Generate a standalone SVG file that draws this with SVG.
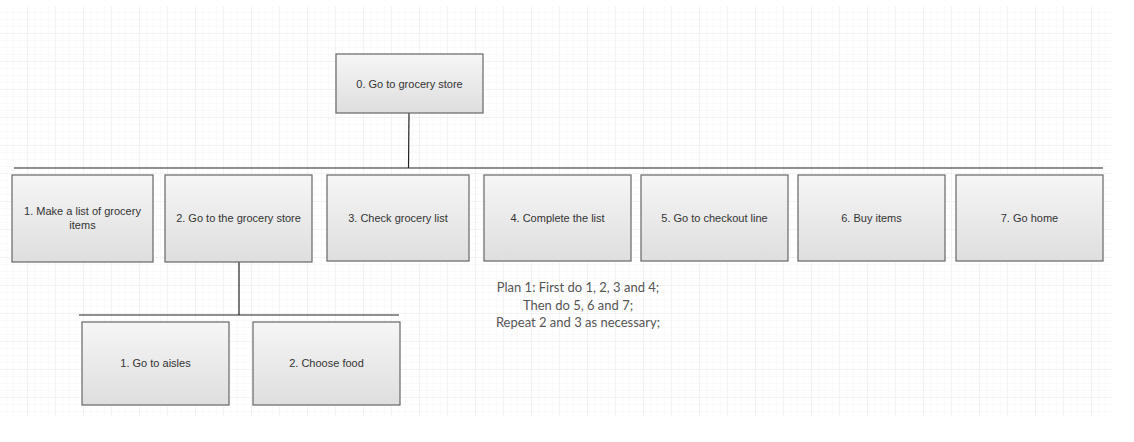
<svg xmlns="http://www.w3.org/2000/svg" width="1134" height="442" viewBox="0 0 1134 442">
<defs>
<pattern id="minor" width="7" height="7" patternUnits="userSpaceOnUse" x="0" y="6">
<path d="M7 0V7M0 7H7" fill="none" stroke="#f4f4f4" stroke-width="1"/>
</pattern>
<pattern id="major" width="28" height="28" patternUnits="userSpaceOnUse" x="0" y="6">
<path d="M28 0V28M0 28H28" fill="none" stroke="#ececec" stroke-width="1"/>
</pattern>
<linearGradient id="boxfill" x1="0" y1="0" x2="0" y2="1">
<stop offset="0" stop-color="#f6f6f6"/>
<stop offset="1" stop-color="#dedede"/>
</linearGradient>
<style>
.box{fill:url(#boxfill);stroke:#666;stroke-width:1.2}
.lbl{font-family:"Liberation Sans",Arial,sans-serif;font-size:11px;fill:#333;text-anchor:middle}
.conn{stroke:#222;stroke-width:1.2;fill:none}
.plan{font-family:Lato,"Noto Sans",sans-serif;font-size:13px;fill:#555;text-anchor:middle}
</style>
</defs>
<rect width="1134" height="442" fill="#fff"/>
<rect x="0" y="6" width="1112" height="410" fill="url(#minor)"/>
<rect x="0" y="6" width="1112" height="410" fill="url(#major)"/>
<g id="connectors">
<path class="conn" d="M409 113L408.5 168"/>
<path class="conn" d="M14 168H1103"/>
<path class="conn" d="M239 262V315"/>
<path class="conn" d="M79 315H399" stroke="#555"/>
</g>
<g id="node0"><rect class="box" x="336" y="54" width="147" height="59"/><text class="lbl" x="409.5" y="88">0. Go to grocery store</text></g>
<g id="node1"><rect class="box" x="12" y="175" width="141" height="87"/><text class="lbl" x="82.5" y="215">1. Make a list of grocery</text><text class="lbl" x="82.5" y="229">items</text></g>
<g id="node2"><rect class="box" x="165" y="175" width="147" height="87"/><text class="lbl" x="238.5" y="222">2. Go to the grocery store</text></g>
<g id="node3"><rect class="box" x="327" y="175" width="142" height="86"/><text class="lbl" x="398" y="222">3. Check grocery list</text></g>
<g id="node4"><rect class="box" x="484" y="175" width="147" height="86"/><text class="lbl" x="557.5" y="222">4. Complete the list</text></g>
<g id="node5"><rect class="box" x="641" y="175" width="147" height="86"/><text class="lbl" x="714.5" y="222">5. Go to checkout line</text></g>
<g id="node6"><rect class="box" x="798" y="175" width="147" height="86"/><text class="lbl" x="871.5" y="222">6. Buy items</text></g>
<g id="node7"><rect class="box" x="956" y="175" width="147" height="86"/><text class="lbl" x="1029.5" y="222">7. Go home</text></g>
<g id="node2_1"><rect class="box" x="82" y="322" width="147" height="83"/><text class="lbl" x="155.5" y="367">1. Go to aisles</text></g>
<g id="node2_2"><rect class="box" x="253" y="322" width="147" height="83"/><text class="lbl" x="326.5" y="367">2. Choose food</text></g>
<g id="plan">
<text class="plan" x="578" y="292">Plan 1: First do 1, 2, 3 and 4;</text>
<text class="plan" x="578" y="309.5">Then do 5, 6 and 7;</text>
<text class="plan" x="578" y="327">Repeat 2 and 3 as necessary;</text>
</g>
</svg>
